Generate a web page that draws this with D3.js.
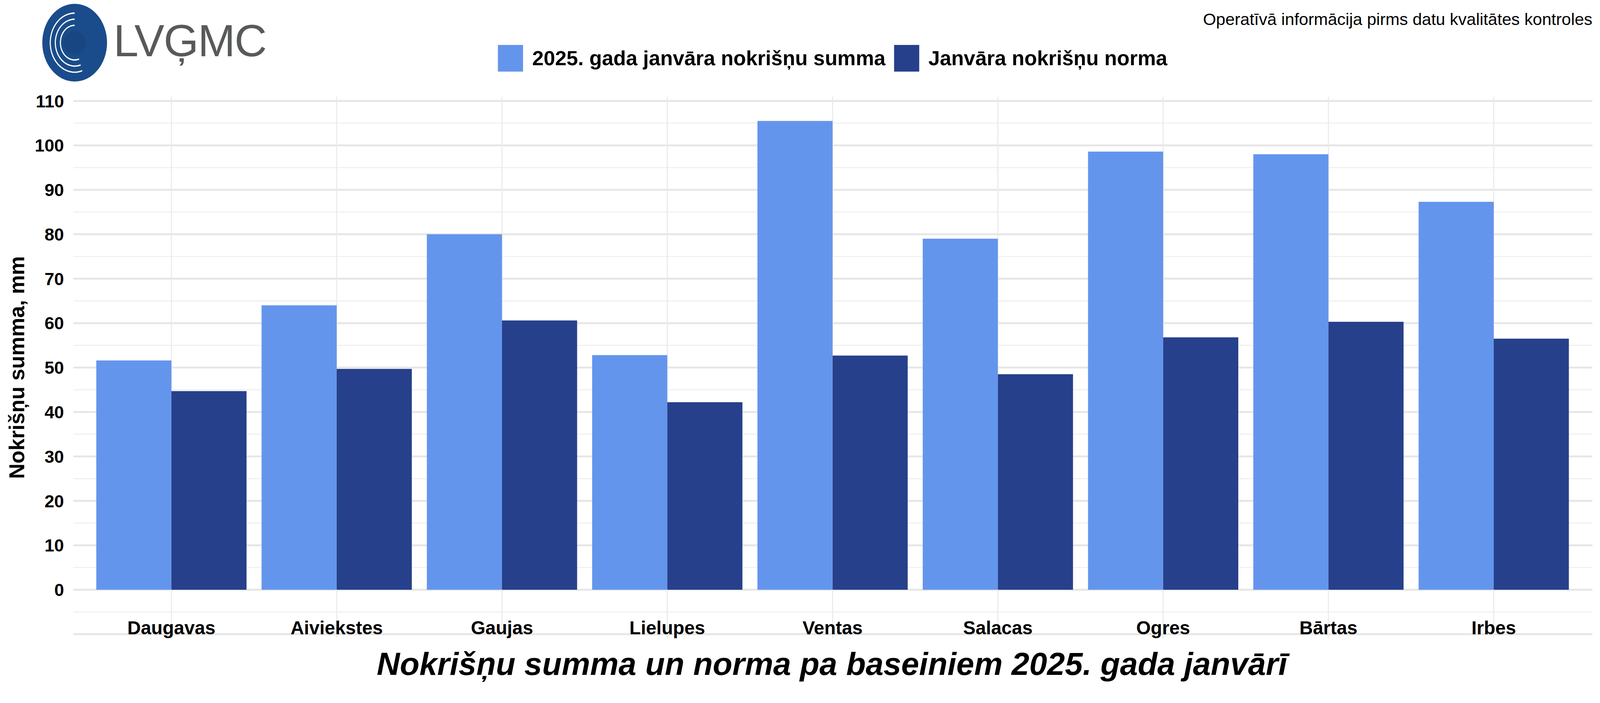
<!DOCTYPE html>
<html>
<head>
<meta charset="utf-8">
<script src="https://cdn.jsdelivr.net/npm/d3@7"></script>
<style>
  html, body { margin: 0; padding: 0; background: #fff; overflow: hidden; width: 100%; height: 100%; }
  svg { display: block; width: 100vw; height: 100vh; }
  text { font-family: "Liberation Sans", Arial, sans-serif; }
</style>
</head>
<body>
<svg id="chart" viewBox="0 0 4200 1800" preserveAspectRatio="xMidYMin meet"></svg>
<script>
const categories = ["Daugavas", "Aiviekstes", "Gaujas", "Lielupes", "Ventas", "Salacas", "Ogres", "Bārtas", "Irbes"];
const sum2025 = [51.6, 64.0, 80.0, 52.8, 105.5, 79.0, 98.6, 98.0, 87.3];
const norm = [44.7, 49.7, 60.6, 42.2, 52.7, 48.5, 56.8, 60.3, 56.5];
const seriesNames = ["2025. gada janvāra nokrišņu summa", "Janvāra nokrišņu norma"];
const yTicks = [0, 10, 20, 30, 40, 50, 60, 70, 80, 90, 100, 110];
const colors = ["#6495ED", "#27408B"];

const svg = d3.select("#chart");
const plotLeft = 193, plotRight = 4180;

const x = d3.scaleBand().domain(categories).range([233, 4138]).paddingInner(0).paddingOuter(0);
const y = d3.scaleLinear().domain([-10, 110]).range([1665, 265]);

// horizontal grid (minor every 5)
const grid = d3.range(-10, 111, 5);
svg.append("g").selectAll("line").data(grid).join("line")
  .attr("x1", plotLeft).attr("x2", plotRight)
  .attr("y1", d => y(d)).attr("y2", d => y(d))
  .attr("stroke", d => d % 10 === 0 ? "#e6e6e6" : "#f0f0f0")
  .attr("stroke-width", d => d % 10 === 0 ? 5 : 3);

// vertical grid at category centers
svg.append("g").selectAll("line").data(categories).join("line")
  .attr("x1", d => x(d) + x.bandwidth() / 2).attr("x2", d => x(d) + x.bandwidth() / 2)
  .attr("y1", y(110) - 12).attr("y2", y(-10) + 10)
  .attr("stroke", "#ebebeb").attr("stroke-width", 3);

const inner = d3.scaleBand().domain([0, 1]).range([0, x.bandwidth()]).paddingOuter(0.1).paddingInner(0);
const rows = categories.map((c, i) => ({ c, v: [sum2025[i], norm[i]] }));
svg.append("g").selectAll("g").data(rows).join("g")
  .attr("transform", d => `translate(${x(d.c)},0)`)
  .selectAll("rect").data(d => d.v.map((v, k) => ({ v, k }))).join("rect")
  .attr("x", d => inner(d.k)).attr("width", inner.bandwidth())
  .attr("y", d => y(d.v)).attr("height", d => y(0) - y(d.v))
  .attr("fill", d => colors[d.k]);

// y axis labels
svg.append("g").selectAll("text").data(yTicks).join("text")
  .attr("x", 168).attr("y", d => y(d)).attr("dy", "0.36em")
  .attr("text-anchor", "end").attr("font-size", 46).attr("font-weight", "bold").text(d => d);

// x axis labels
svg.append("g").selectAll("text").data(categories).join("text")
  .attr("x", d => x(d) + x.bandwidth() / 2).attr("y", 1665)
  .attr("text-anchor", "middle").attr("font-size", 49).attr("font-weight", "bold").text(d => d);

// y title
svg.append("text").attr("transform", `translate(64,${y(50)}) rotate(-90)`)
  .attr("text-anchor", "middle").attr("font-size", 56).attr("font-weight", "bold")
  .text("Nokrišņu summa, mm");

// title
svg.append("text").attr("x", 2184).attr("y", 1772).attr("text-anchor", "middle")
  .attr("font-size", 84).attr("font-weight", "bold").attr("font-style", "italic")
  .text("Nokrišņu summa un norma pa baseiniem 2025. gada janvārī");

// top-right note
svg.append("text").attr("x", 4180).attr("y", 66).attr("text-anchor", "end")
  .attr("font-size", 44).text("Operatīvā informācija pirms datu kvalitātes kontroles");

// legend
const legX = [1307, 2347];
seriesNames.forEach((n, i) => {
  svg.append("rect").attr("x", legX[i]).attr("y", 118).attr("width", 66).attr("height", 70).attr("fill", colors[i]);
  svg.append("text").attr("x", legX[i] + 90).attr("y", 171).attr("font-size", 54).attr("font-weight", "bold").text(n);
});

// logo
const logo = svg.append("g").attr("transform", "translate(196,112)");
logo.append("ellipse").attr("rx", 85).attr("ry", 102).attr("fill", "#1a4c8b");
[38, 52, 66].forEach(r => {
  logo.append("path")
    .attr("d", d3.arc()({ innerRadius: r, outerRadius: r + 3, startAngle: Math.PI * 0.9, endAngle: Math.PI * 2.0 }))
    .attr("fill", "#fff").attr("transform", "scale(0.95,1.15)");
});
logo.append("circle").attr("r", 30).attr("fill", "#174683");
svg.append("text").attr("x", 298).attr("y", 148).attr("font-size", 118).attr("fill", "#58595b")
  .attr("font-family", "'Open Sans', sans-serif").attr("letter-spacing", -2).text("LVĢMC");
</script>
</body>
</html>
